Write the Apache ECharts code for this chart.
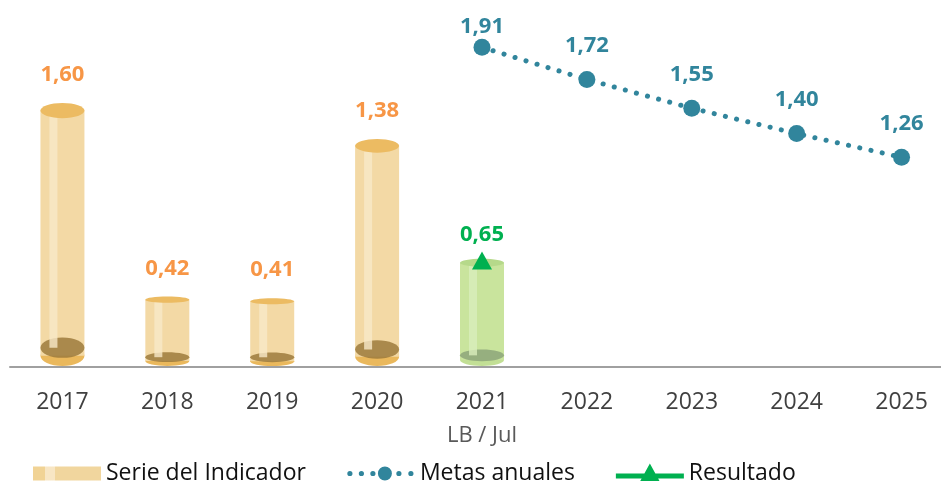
<!DOCTYPE html>
<html>
<head>
<meta charset="utf-8">
<script src="https://cdn.jsdelivr.net/npm/echarts@6/dist/echarts.min.js"></script>
<style>
  html, body { margin: 0; padding: 0; background: #fff; overflow: hidden; }
  #chart { width: 960px; height: 481px; }
</style>
</head>
<body>
<div id="chart"></div>
<script>
const years = ['2017', '2018', '2019', '2020', '2021', '2022', '2023', '2024', '2025'];
const indicador = [1.60, 0.42, 0.41, 1.38, 0.65, null, null, null, null];
const metas = [null, null, null, null, 1.91, 1.72, 1.55, 1.40, 1.26];
const resultado = [null, null, null, null, 0.65, null, null, null, null];

const FONT = 'Open Sans';
const fmt = (v) => v.toFixed(2).replace('.', ',');

// cylinder colours: normal years gold, 2021 (LB) green
const gold = { body: '#F3D9A5', top: '#ECBB62', rim: '#EAB85C', dark: '#9C7A3C', shine: '#F8E8C8', label: '#F79646' };
const green = { body: '#C9E49D', top: '#B6D98A', rim: '#C2DF95', dark: '#8DA67A', shine: '#DAEEBD', label: '#00B050' };

// legend icons, drawn in a 68x20 box (first two moves pin the box size)
const circle = (cx, cy, r) => 'M' + (cx - r) + ' ' + cy + ' a' + r + ' ' + r + ' 0 1 0 ' + 2 * r + ' 0 a' + r + ' ' + r + ' 0 1 0 ' + -2 * r + ' 0 Z ';
const iconBox = 'M0 0 L0.01 0 Z M68 20 L67.99 20 Z ';
const iconSerie = 'path://' + iconBox + 'M0 3 L68 3 L68 17 L0 17 Z';
const iconMetas = 'path://' + iconBox + circle(3, 10, 2.6) + circle(14.5, 10, 2.6) + circle(26, 10, 2.6) +
    circle(38, 10, 7) + circle(52, 10, 2.6) + circle(64, 10, 2.6);
const iconResultado = 'path://' + iconBox +
    'M0 10 L28.5 10 L34 0 L39.5 10 L68 10 L68 15 L42.25 15 L45 20 L23 20 L25.75 15 L0 15 Z';

function renderCylinder(params, api) {
    const i = api.value(0);
    const v = api.value(1);
    const top = api.coord([i, v]);
    const base = api.coord([i, 0]);
    const cx = top[0], ty = top[1], by = base[1];
    const rx = 22;
    const h = by - ty;
    const ryT = 1.5 + h * 0.024;
    const ryB = 3 + h * 0.028;
    const pal = i === 4 ? green : gold;
    const rimCy = by - ryB - 1;
    const darkCy = rimCy - ryB * 0.8;
    const children = [
        { type: 'ellipse', shape: { cx: cx, cy: rimCy, rx: rx, ry: ryB }, style: { fill: pal.rim } },
        { type: 'rect', shape: { x: cx - rx, y: ty, width: rx * 2, height: rimCy - ty }, style: { fill: pal.body } },
        { type: 'ellipse', shape: { cx: cx, cy: darkCy, rx: rx, ry: ryB }, style: { fill: pal.dark, opacity: 0.85 } },
        { type: 'rect', shape: { x: cx - 13, y: ty, width: 8, height: darkCy - ty }, style: { fill: pal.shine, opacity: 0.8 } },
        { type: 'ellipse', shape: { cx: cx, cy: ty, rx: rx, ry: ryT }, style: { fill: pal.top } }
    ];
    if (i !== 4) {
        children.push({
            type: 'text',
            style: {
                text: fmt(v), x: cx, y: ty - ryT - 28, align: 'center', verticalAlign: 'middle',
                fill: pal.label, font: 'bold 22px "' + FONT + '"'
            }
        });
    }
    return { type: 'group', children: children };
}

const chart = echarts.init(document.getElementById('chart'));
chart.setOption({
    animation: false,
    textStyle: { fontFamily: FONT },
    grid: { left: 10, width: 944, top: 0, bottom: 114 },
    legend: {
        left: 33,
        top: 462,
        padding: 0,
        itemWidth: 68,
        itemHeight: 20,
        itemGap: 41,
        textStyle: { fontSize: 23, color: '#111', fontFamily: FONT },
        data: [
            {
                name: 'Serie del Indicador', icon: iconSerie,
                itemStyle: {
                    color: {
                        type: 'linear', x: 0, y: 0, x2: 1, y2: 0,
                        colorStops: [
                            { offset: 0, color: '#F1D395' }, { offset: 0.18, color: '#F1D395' },
                            { offset: 0.18, color: '#F8E6C4' }, { offset: 0.32, color: '#F8E6C4' },
                            { offset: 0.32, color: '#F1D69E' }, { offset: 1, color: '#F1D69E' }
                        ]
                    }
                }
            },
            { name: 'Metas anuales', icon: iconMetas, itemStyle: { color: '#31859C' } },
            { name: 'Resultado', icon: iconResultado, itemStyle: { color: '#00B050' } }
        ]
    },
    xAxis: {
        type: 'category',
        data: years,
        boundaryGap: true,
        axisLine: { lineStyle: { color: '#A0A0A0', width: 2 } },
        axisTick: { show: false },
        axisLabel: {
            margin: 20,
            formatter: (val) => val === '2021' ? '{a|' + val + '}\n{b|LB / Jul}' : '{a|' + val + '}',
            rich: {
                a: { fontSize: 23, color: '#404040', lineHeight: 30, fontFamily: FONT },
                b: { fontSize: 22, color: '#595959', lineHeight: 38, fontFamily: FONT }
            }
        }
    },
    yAxis: [
        { type: 'value', min: 0, max: 2.29, show: false, splitLine: { show: false } },
        { type: 'value', min: 0.02, max: 2.19, show: false, splitLine: { show: false } }
    ],
    series: [
        {
            name: 'Serie del Indicador',
            type: 'custom',
            yAxisIndex: 0,
            itemStyle: { color: '#F1D395' },
            renderItem: renderCylinder,
            data: indicador.map((v, i) => [i, v]).filter((d) => d[1] != null),
            z: 2
        },
        {
            name: 'Metas anuales',
            type: 'line',
            yAxisIndex: 1,
            data: metas.map((v, i) => (i === 4 ? { value: v, label: { distance: 1 } } : v)),
            symbol: 'circle',
            symbolSize: 17,
            itemStyle: { color: '#31859C' },
            lineStyle: { color: '#31859C', width: 5, type: [0.1, 11.4], cap: 'round' },
            label: {
                show: true, position: 'top', distance: 14,
                color: '#31859C', fontSize: 22, fontWeight: 'bold', fontFamily: FONT,
                formatter: (p) => fmt(p.value)
            },
            z: 3
        },
        {
            name: 'Resultado',
            type: 'line',
            yAxisIndex: 1,
            data: resultado,
            symbol: 'triangle',
            symbolSize: [20, 18],
            itemStyle: { color: '#00B050' },
            lineStyle: { color: '#00B050', width: 4 },
            label: {
                show: true, position: 'top', distance: 6,
                color: '#00B050', fontSize: 22, fontWeight: 'bold', fontFamily: FONT,
                formatter: (p) => fmt(p.value)
            },
            z: 4
        }
    ]
});
</script>
</body>
</html>
